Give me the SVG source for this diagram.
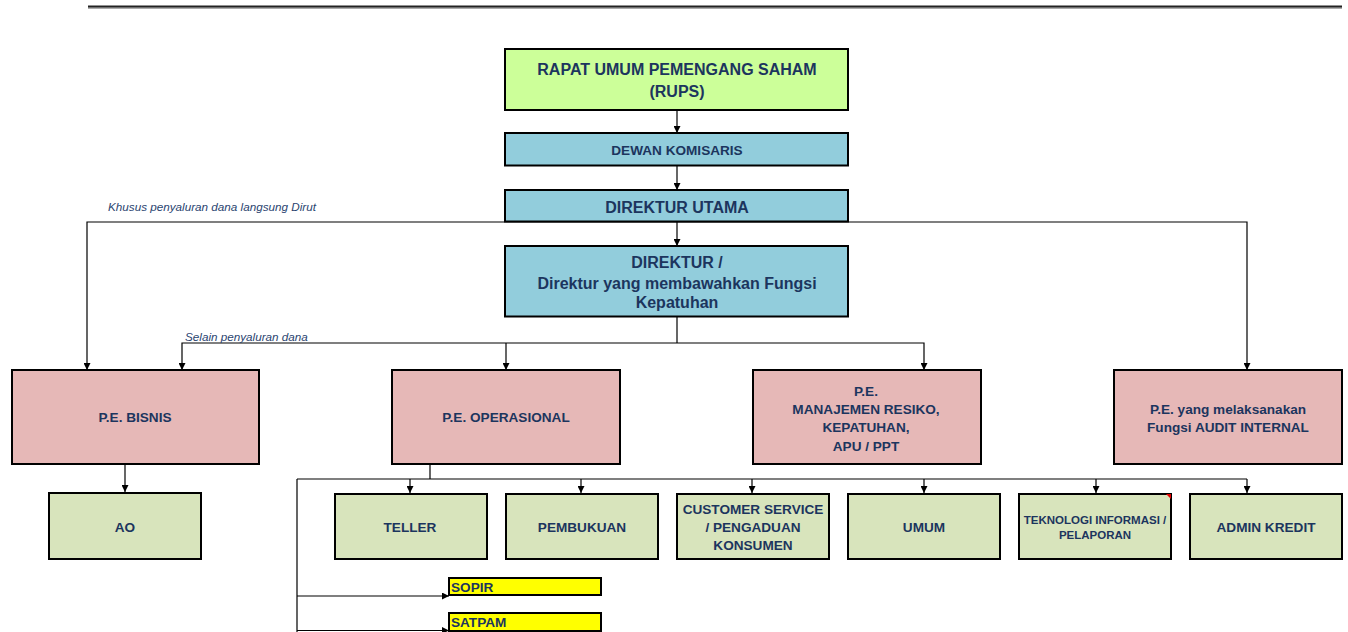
<svg xmlns="http://www.w3.org/2000/svg" width="1348" height="632" viewBox="0 0 1348 632">
<style>
.box{stroke:#000;stroke-width:2}
.g1{fill:#CCFF99}.bl{fill:#92CDDC}.pk{fill:#E6B8B7}.gr{fill:#D8E4BC}.ye{fill:#FFFF00}
text{font-family:"Liberation Sans",Arial,sans-serif;font-weight:bold;fill:#1C355E;text-anchor:middle}
.t16{font-size:16px}.t14{font-size:13.6px}.t11{font-size:11.5px}
.lab{font-size:11.7px;font-weight:normal;font-style:italic;text-anchor:start;fill:#2A4470}
.left{text-anchor:start}
.c{fill:none;stroke:#000;stroke-width:1.2}
.a{marker-end:url(#ah)}
</style>
<defs>
<marker id="ah" viewBox="0 0 8 8" refX="8" refY="4" markerWidth="7" markerHeight="7" markerUnits="userSpaceOnUse" orient="auto">
<path d="M0,0 L8,4 L0,8 z" fill="#000"/>
</marker>
</defs>
<rect x="88" y="5.5" width="1254" height="2.2" fill="#222"/>
<rect x="88" y="7.7" width="1254" height="1" fill="#888"/>
<g id="connectors">
<path class="c a" d="M677,110 V133"/>
<path class="c a" d="M677,166 V190"/>
<path class="c a" d="M677,222 V246"/>
<path class="c a" d="M677,222 H87 V370"/>
<path class="c a" d="M677,222 H1247 V370"/>
<path class="c" d="M677,317 V343"/>
<path class="c a" d="M677,343 H182 V370"/>
<path class="c a" d="M506,343 V370"/>
<path class="c a" d="M677,343 H924 V370"/>
<path class="c a" d="M125,464 V492"/>
<path class="c" d="M430,464 V479 M297,479 H1247 M297,479 V632"/>
<path class="c a" d="M410,479 V493"/>
<path class="c a" d="M581,479 V493"/>
<path class="c a" d="M752,479 V493"/>
<path class="c a" d="M924,479 V493"/>
<path class="c a" d="M1096,479 V493"/>
<path class="c a" d="M1247,479 V493"/>
<path class="c a" d="M297,596 H449"/>
<path class="c a" d="M297,630.5 H449"/>
<text class="lab" x="108" y="211">Khusus penyaluran dana langsung Dirut</text>
<text class="lab" x="185" y="341">Selain penyaluran dana</text>
</g>
<g id="rups"><rect class="box g1" x="505" y="49" width="343" height="61"/>
<text class="t16" x="677" y="75">RAPAT UMUM PEMENGANG SAHAM</text>
<text class="t16" x="677" y="96.5">(RUPS)</text></g>
<g id="dewan"><rect class="box bl" x="505" y="133" width="343" height="32.5"/>
<text class="t14" x="677" y="155">DEWAN KOMISARIS</text></g>
<g id="dirut"><rect class="box bl" x="505" y="190" width="343" height="31.5"/>
<text class="t16" x="677" y="212.5">DIREKTUR UTAMA</text></g>
<g id="direktur"><rect class="box bl" x="505" y="246" width="343" height="70.5"/>
<text class="t16" x="677" y="267.5">DIREKTUR /</text>
<text class="t16" x="677" y="288.5">Direktur yang membawahkan Fungsi</text>
<text class="t16" x="677" y="308">Kepatuhan</text></g>
<g id="pe-bisnis"><rect class="box pk" x="12" y="370" width="247" height="94"/>
<text class="t14" x="135" y="422">P.E. BISNIS</text></g>
<g id="pe-operasional"><rect class="box pk" x="392" y="370" width="228" height="94"/>
<text class="t14" x="506" y="422">P.E. OPERASIONAL</text></g>
<g id="pe-manajemen"><rect class="box pk" x="753" y="370" width="228" height="94"/>
<text class="t14" x="866" y="395.5">P.E.</text>
<text class="t14" x="866" y="414">MANAJEMEN RESIKO,</text>
<text class="t14" x="866" y="432">KEPATUHAN,</text>
<text class="t14" x="866" y="450.5">APU / PPT</text></g>
<g id="pe-audit"><rect class="box pk" x="1114" y="370" width="228" height="94"/>
<text class="t14" x="1228" y="414">P.E. yang melaksanakan</text>
<text class="t14" x="1228" y="431.5">Fungsi AUDIT INTERNAL</text></g>
<g id="ao"><rect class="box gr" x="49" y="493" width="152" height="66"/>
<text class="t14" x="125" y="531.5">AO</text></g>
<g id="teller"><rect class="box gr" x="335" y="494" width="152" height="65"/>
<text class="t14" x="410" y="531.5">TELLER</text></g>
<g id="pembukuan"><rect class="box gr" x="506" y="494" width="152" height="65"/>
<text class="t14" x="582" y="531.5">PEMBUKUAN</text></g>
<g id="cs"><rect class="box gr" x="677" y="494" width="152" height="65"/>
<text class="t14" x="753" y="514">CUSTOMER SERVICE</text>
<text class="t14" x="753" y="531.5">/ PENGADUAN</text>
<text class="t14" x="753" y="550">KONSUMEN</text></g>
<g id="umum"><rect class="box gr" x="848" y="494" width="152" height="65"/>
<text class="t14" x="924" y="531.5">UMUM</text></g>
<g id="ti"><rect class="box gr" x="1019" y="494" width="152" height="65"/>
<text class="t11" x="1095" y="524">TEKNOLOGI INFORMASI /</text>
<text class="t11" x="1095" y="539">PELAPORAN</text>
<path d="M1166,494 L1171,494 L1171,499 z" fill="#E00000"/></g>
<g id="admin"><rect class="box gr" x="1190" y="494" width="152" height="65"/>
<text class="t14" x="1266" y="531.5">ADMIN KREDIT</text></g>
<g id="sopir"><rect class="box ye" x="449" y="578" width="152" height="17"/>
<text class="t14 left" x="451" y="592">SOPIR</text></g>
<g id="satpam"><rect class="box ye" x="449" y="613" width="152" height="18"/>
<text class="t14 left" x="451" y="627">SATPAM</text></g>
</svg>
